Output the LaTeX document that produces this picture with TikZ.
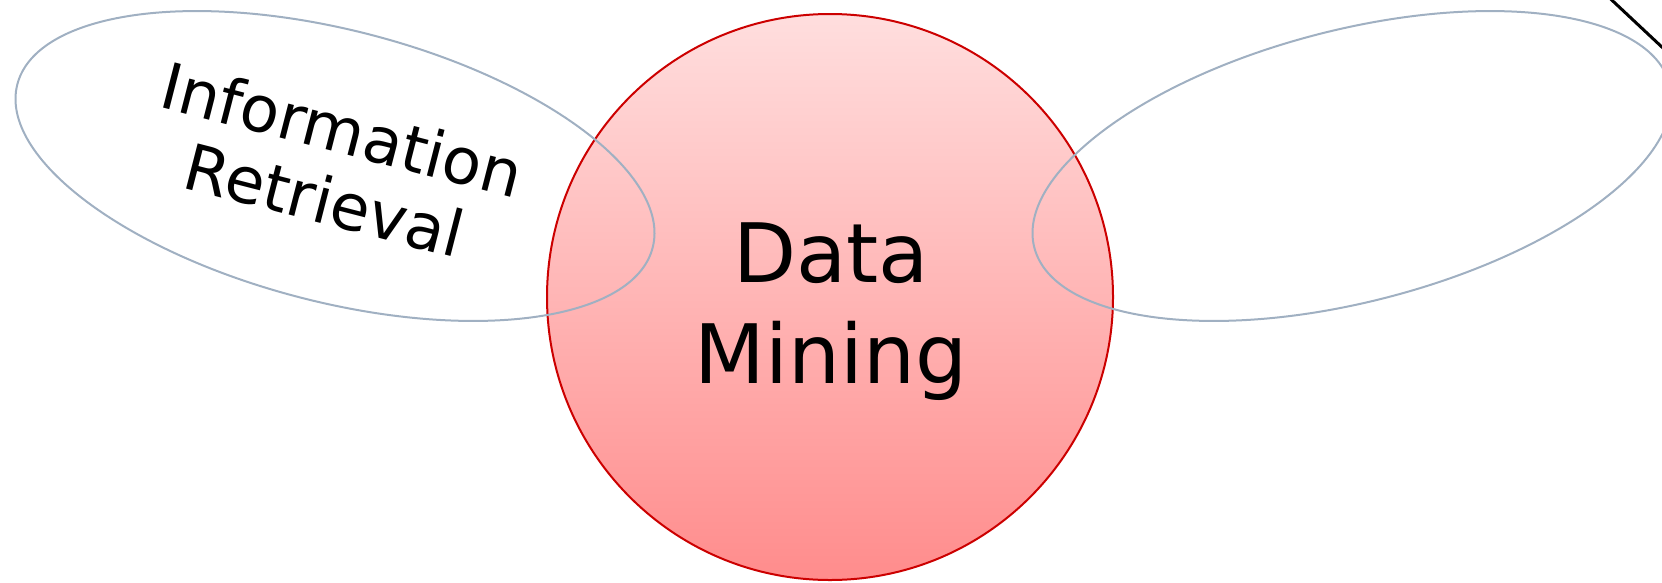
\documentclass[tikz,border=0pt]{standalone}
\usepackage{fontspec}
\setmainfont{DejaVu Sans}
\usetikzlibrary{shapes.geometric,shadings}
\definecolor{dmtop}{HTML}{FFDEDE}
\definecolor{dmbottom}{HTML}{FF8C8C}
\definecolor{dmrim}{HTML}{CC0000}
\definecolor{setrim}{HTML}{A0B0C2}
\tikzset{
  vennset/.style={draw=setrim, line width=2pt, ellipse, minimum width=656pt,
    minimum height=272pt, inner sep=0pt},
  core/.style={circle, draw=dmrim, line width=2pt, top color=dmtop,
    bottom color=dmbottom, minimum size=566pt, inner sep=0pt},
  bigword/.style={font=\fontsize{82}{101.5}\selectfont, align=center, inner sep=0pt},
  tiltword/.style={font=\fontsize{64}{72.6}\selectfont, align=center, inner sep=0pt,
    rotate=-14.4},
  link/.style={line width=3pt, draw=black}
}
\begin{document}
\begin{tikzpicture}[x=1pt, y=-1pt]
  \useasboundingbox (0,0) rectangle (1662,582);
  \clip (0,0) rectangle (1662,582);

  % central set
  \node[core] (dm) at (830,297) {};

  % overlapping neighbouring sets
  \node[vennset, rotate=-14.4] (ir) at (335,166) {};
  \node[vennset, rotate=14.4] (other) at (1352,166) {};

  % labels
  \node[bigword] (dmlabel) at (831,311.4) {Data\\Mining};
  \node[tiltword] (irlabel) at (333.5,164.6) {Information\\Retrieval};

  % edge leaving the top right corner
  \coordinate (l1) at (1600,-11);
  \coordinate (l2) at (1680,64);
  \draw[link] (l1) -- (l2);
\end{tikzpicture}
\end{document}
